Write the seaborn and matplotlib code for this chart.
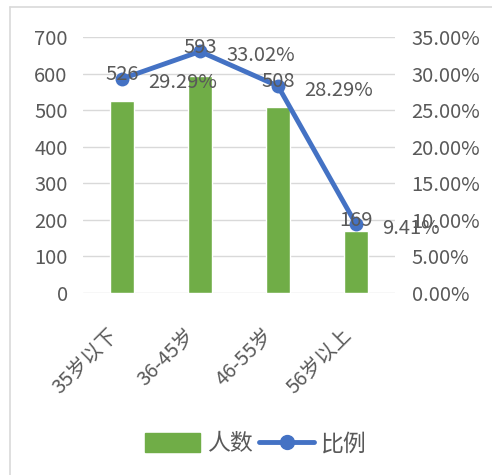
import matplotlib
matplotlib.use("Agg")
import matplotlib.pyplot as plt
import matplotlib.lines as mlines
import matplotlib.patches as mpatches
import matplotlib.transforms as mtrans
import pandas as pd
import seaborn as sns

# 数据
categories = ["35岁以下", "36-45岁", "46-55岁", "56岁以上"]
counts = [526, 593, 508, 169]
ratios = [29.29, 33.02, 28.29, 9.41]

sns.set_style("white")
plt.rcParams["font.family"] = ["Noto Sans CJK SC", "DejaVu Sans"]

txt = "#595959"
green = "#70AD47"
blue = "#4472C4"
fs = 14.5

df = pd.DataFrame({"cat": categories, "count": counts, "ratio": ratios})

fig = plt.figure(figsize=(4.92, 4.75), dpi=100)
ax = fig.add_axes([83 / 492, 1 - 293 / 475, (395 - 83) / 492, (293 - 37) / 475])

sns.barplot(data=df, x="cat", y="count", color=green, width=0.32, ax=ax, saturation=1)
ax.set_ylim(0, 700)
ax.set_yticks(range(0, 701, 100))
ax.yaxis.grid(True, color="#D9D9D9", linewidth=1)
ax.set_axisbelow(True)
for s in ax.spines.values():
    s.set_visible(False)
ax.set_xlabel("")
ax.set_ylabel("")
ax.set_xlim(-0.5, 3.5)
ax.set_xticks(range(len(categories)))
ax.set_xticklabels(categories, rotation=45, ha="right", va="top", rotation_mode="anchor")
ax.tick_params(axis="y", labelsize=fs, colors=txt, length=0, pad=11)
ax.tick_params(axis="x", labelsize=fs, colors=txt, length=0, pad=23)
shift = mtrans.ScaledTranslation(-15 / 100, 0, fig.dpi_scale_trans)
for lab in ax.get_xticklabels():
    lab.set_transform(lab.get_transform() + shift)

ax2 = ax.twinx()
sns.lineplot(x=list(range(len(categories))), y=ratios, ax=ax2, color=blue, linewidth=3.5,
             marker="o", markersize=10, markeredgewidth=0)
ax2.set_ylim(0, 35)
ax2.set_yticks(range(0, 36, 5))
ax2.set_yticklabels([f"{v:.2f}%" for v in range(0, 36, 5)])
ax2.tick_params(axis="y", labelsize=fs, colors=txt, length=0, pad=12)
for s in ax2.spines.values():
    s.set_visible(False)
ax2.set_ylabel("")
ax2.grid(False)

for i, (c, r) in enumerate(zip(counts, ratios)):
    ax2.annotate(str(c), (i, r), xytext=(0, -1), textcoords="offset points",
                 ha="center", va="baseline", fontsize=fs, color=txt)
    ax2.annotate(f"{r:.2f}%", (i, r), xytext=(19, -3), textcoords="offset points",
                 ha="left", va="center", fontsize=fs, color=txt)

handles = [mpatches.Patch(color=green, label="人数"),
           mlines.Line2D([], [], color=blue, linewidth=3.5, marker="o", markersize=10, label="比例")]
fig.legend(handles=handles, loc="center", bbox_to_anchor=(0.52, 1 - 444 / 475), ncol=2,
           frameon=False, fontsize=16.5, labelcolor=txt, handlelength=2.4, handleheight=0.9,
           columnspacing=0.3, handletextpad=0.3)

# 外框
fig.add_artist(mlines.Line2D([10 / 492, 10 / 492], [0, 1 - 7 / 475], color="#D9D9D9", linewidth=1.2))
fig.add_artist(mlines.Line2D([10 / 492, 1], [1 - 7 / 475, 1 - 7 / 475], color="#D9D9D9", linewidth=1.2))

fig.savefig("out.png", dpi=100)
